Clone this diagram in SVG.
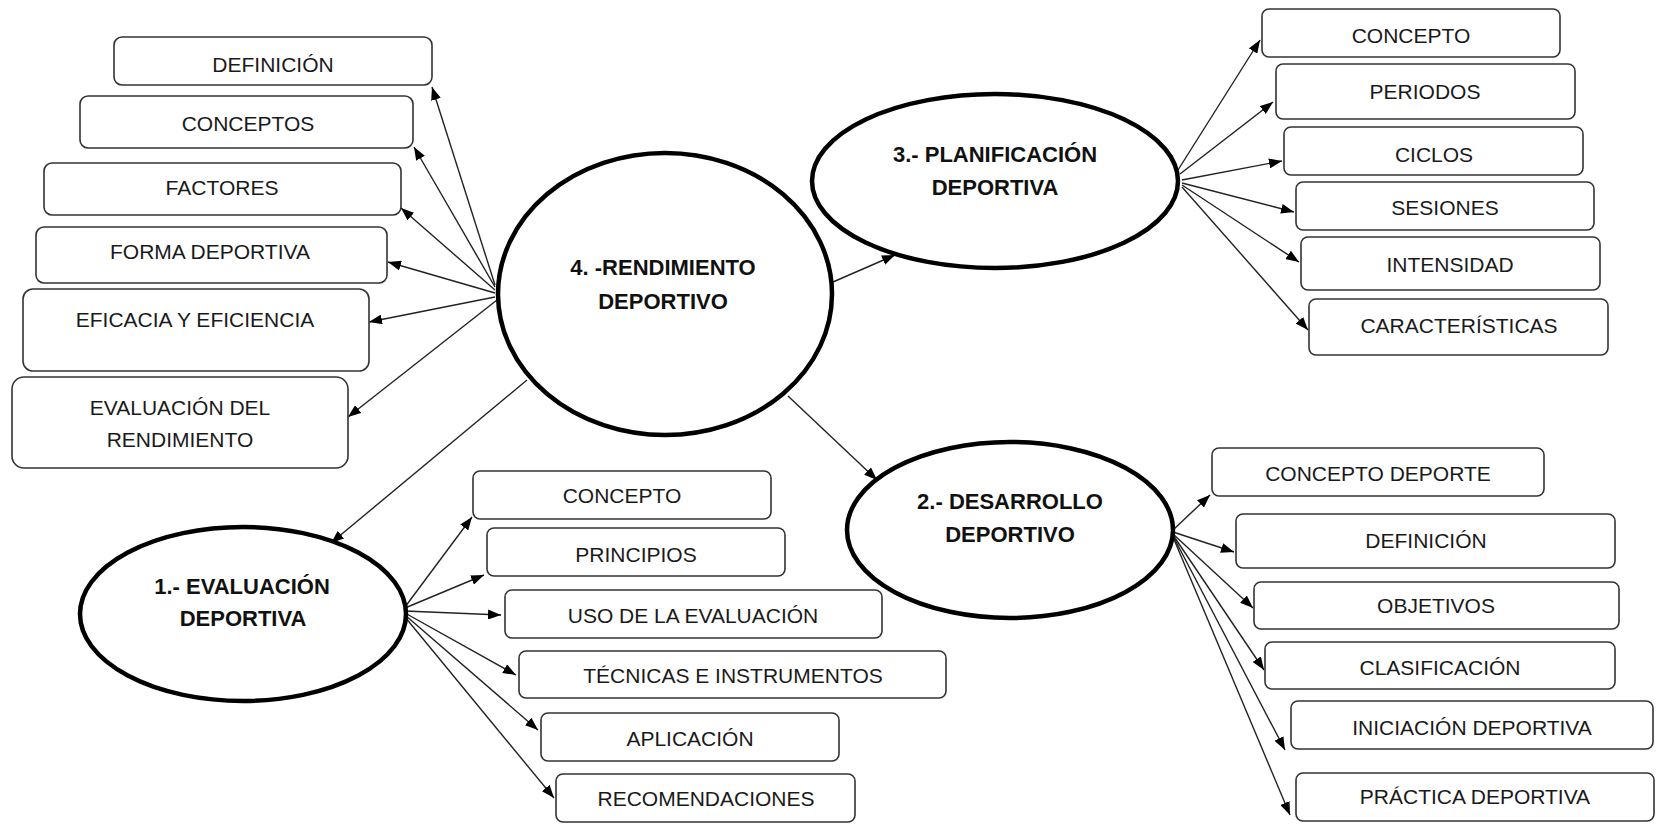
<svg xmlns="http://www.w3.org/2000/svg" width="1658" height="825" viewBox="0 0 1658 825">
<style>
.box{fill:#fff;stroke:#333;stroke-width:1.6}
.ell{fill:#fff;stroke:#000;stroke-width:4.5}
.t{font-family:"Liberation Sans",Arial,sans-serif;font-size:21px;fill:#1a1a1a;text-anchor:middle}
.b{font-family:"Liberation Sans",Arial,sans-serif;font-size:22px;font-weight:bold;fill:#111;text-anchor:middle}
.c line{stroke:#222;stroke-width:1.4;marker-end:url(#ah)}
</style>
<defs>
<marker id="ah" markerUnits="userSpaceOnUse" markerWidth="14" markerHeight="10" refX="13" refY="5" orient="auto">
<path d="M0,0 L13,5 L0,10 z" fill="#000"/>
</marker>
</defs>
<rect width="1658" height="825" fill="#fff"/>
<g class="c" id="connectors">
<line x1="495" y1="285" x2="432" y2="87"/>
<line x1="495" y1="287" x2="414" y2="147"/>
<line x1="495" y1="290" x2="401" y2="208"/>
<line x1="495" y1="293" x2="388" y2="262"/>
<line x1="495" y1="297" x2="369" y2="322"/>
<line x1="497" y1="300" x2="348" y2="417"/>
<line x1="833" y1="282" x2="895" y2="255"/>
<line x1="527" y1="380" x2="331" y2="543"/>
<line x1="788" y1="396" x2="877" y2="480"/>
<line x1="1178" y1="170" x2="1260" y2="40"/>
<line x1="1180" y1="174" x2="1273" y2="102"/>
<line x1="1182" y1="180" x2="1282" y2="161"/>
<line x1="1182" y1="183" x2="1294" y2="212"/>
<line x1="1182" y1="185" x2="1299" y2="262"/>
<line x1="1182" y1="187" x2="1308" y2="330"/>
<line x1="405" y1="607" x2="472" y2="517"/>
<line x1="405" y1="608" x2="484" y2="575"/>
<line x1="405" y1="611" x2="501" y2="615"/>
<line x1="405" y1="613" x2="516" y2="675"/>
<line x1="405" y1="615" x2="538" y2="730"/>
<line x1="405" y1="617" x2="554" y2="798"/>
<line x1="1173" y1="530" x2="1210" y2="495"/>
<line x1="1173" y1="532" x2="1234" y2="552"/>
<line x1="1173" y1="534" x2="1253" y2="608"/>
<line x1="1173" y1="535" x2="1264" y2="670"/>
<line x1="1173" y1="536" x2="1285" y2="750"/>
<line x1="1173" y1="537" x2="1290" y2="815"/>
</g>
<g id="n4"><ellipse class="ell" cx="665" cy="294" rx="167" ry="141"/><text class="b" x="663" y="275">4. -RENDIMIENTO</text><text class="b" x="663" y="309">DEPORTIVO</text></g>
<g id="n3"><ellipse class="ell" cx="995" cy="181" rx="183" ry="87"/><text class="b" x="995" y="162">3.- PLANIFICACIÓN</text><text class="b" x="995" y="195">DEPORTIVA</text></g>
<g id="n1"><ellipse class="ell" cx="243" cy="614" rx="163" ry="87"/><text class="b" x="242" y="594">1.- EVALUACIÓN</text><text class="b" x="243" y="626">DEPORTIVA</text></g>
<g id="n2"><ellipse class="ell" cx="1010" cy="530" rx="163" ry="88"/><text class="b" x="1010" y="509">2.- DESARROLLO</text><text class="b" x="1010" y="542">DEPORTIVO</text></g>
<g id="l1"><rect class="box" x="114" y="37" width="318" height="48" rx="8"/><text class="t" x="273" y="72">DEFINICIÓN</text></g>
<g id="l2"><rect class="box" x="80" y="96" width="333" height="52" rx="8"/><text class="t" x="248" y="131">CONCEPTOS</text></g>
<g id="l3"><rect class="box" x="44" y="163" width="357" height="52" rx="8"/><text class="t" x="222" y="195">FACTORES</text></g>
<g id="l4"><rect class="box" x="36" y="227" width="351" height="56" rx="8"/><text class="t" x="210" y="259">FORMA DEPORTIVA</text></g>
<g id="l5"><rect class="box" x="23" y="289" width="346" height="82" rx="10"/><text class="t" x="195" y="327">EFICACIA Y EFICIENCIA</text></g>
<g id="l6"><rect class="box" x="12" y="377" width="336" height="91" rx="12"/><text class="t" x="180" y="415">EVALUACIÓN DEL</text><text class="t" x="180" y="447">RENDIMIENTO</text></g>
<g id="p1"><rect class="box" x="1262" y="9" width="298" height="48" rx="7"/><text class="t" x="1411" y="43">CONCEPTO</text></g>
<g id="p2"><rect class="box" x="1276" y="64" width="299" height="55" rx="7"/><text class="t" x="1425" y="99">PERIODOS</text></g>
<g id="p3"><rect class="box" x="1284" y="127" width="299" height="48" rx="7"/><text class="t" x="1434" y="162">CICLOS</text></g>
<g id="p4"><rect class="box" x="1296" y="182" width="298" height="48" rx="7"/><text class="t" x="1445" y="215">SESIONES</text></g>
<g id="p5"><rect class="box" x="1301" y="237" width="299" height="53" rx="7"/><text class="t" x="1450" y="272">INTENSIDAD</text></g>
<g id="p6"><rect class="box" x="1309" y="299" width="299" height="56" rx="7"/><text class="t" x="1459" y="333">CARACTERÍSTICAS</text></g>
<g id="e1"><rect class="box" x="473" y="471" width="298" height="48" rx="7"/><text class="t" x="622" y="503">CONCEPTO</text></g>
<g id="e2"><rect class="box" x="487" y="528" width="298" height="48" rx="7"/><text class="t" x="636" y="562">PRINCIPIOS</text></g>
<g id="e3"><rect class="box" x="505" y="590" width="377" height="48" rx="7"/><text class="t" x="693" y="623">USO DE LA EVALUACIÓN</text></g>
<g id="e4"><rect class="box" x="519" y="651" width="427" height="47" rx="7"/><text class="t" x="733" y="683">TÉCNICAS E INSTRUMENTOS</text></g>
<g id="e5"><rect class="box" x="541" y="713" width="298" height="48" rx="7"/><text class="t" x="690" y="746">APLICACIÓN</text></g>
<g id="e6"><rect class="box" x="556" y="774" width="299" height="48" rx="7"/><text class="t" x="706" y="806">RECOMENDACIONES</text></g>
<g id="d1"><rect class="box" x="1212" y="448" width="332" height="48" rx="7"/><text class="t" x="1378" y="481">CONCEPTO DEPORTE</text></g>
<g id="d2"><rect class="box" x="1236" y="514" width="379" height="54" rx="7"/><text class="t" x="1426" y="548">DEFINICIÓN</text></g>
<g id="d3"><rect class="box" x="1254" y="582" width="365" height="47" rx="7"/><text class="t" x="1436" y="613">OBJETIVOS</text></g>
<g id="d4"><rect class="box" x="1265" y="642" width="350" height="47" rx="7"/><text class="t" x="1440" y="675">CLASIFICACIÓN</text></g>
<g id="d5"><rect class="box" x="1291" y="701" width="362" height="48" rx="7"/><text class="t" x="1472" y="735">INICIACIÓN DEPORTIVA</text></g>
<g id="d6"><rect class="box" x="1296" y="773" width="358" height="48" rx="7"/><text class="t" x="1475" y="804">PRÁCTICA DEPORTIVA</text></g>
</svg>
